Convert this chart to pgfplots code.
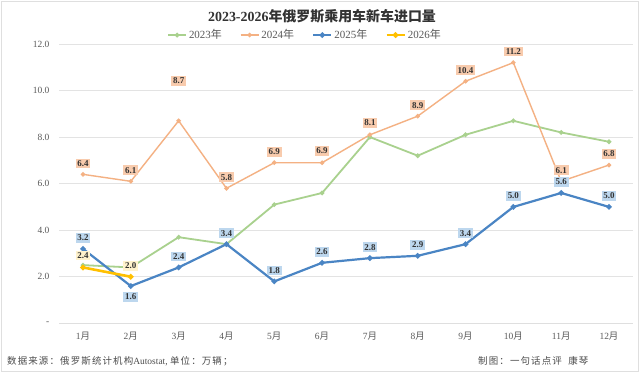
\documentclass[border=0pt]{standalone}
\usepackage{pgfplots}
\pgfplotsset{compat=1.18}
\usepackage{pgfplotstable}
\usepackage{fontspec}
\setmainfont{Liberation Serif}
\newfontfamily\cjk{Noto Sans CJK SC}
\newfontfamily\cjkw{Noto Sans CJK SC}[LetterSpace=12]
\newcommand\yue{{\cjk 月}}
\newcommand\nian{{\cjk 年}}
\definecolor{cA}{HTML}{A9D18E}
\definecolor{cB}{HTML}{F4B183}
\definecolor{cC}{HTML}{4A85C4}
\definecolor{cD}{HTML}{FFC000}
\definecolor{fB}{HTML}{F8CBAD}
\definecolor{fC}{HTML}{BDD7EE}
\definecolor{fD}{HTML}{FFF2CC}
\definecolor{tk}{HTML}{595959}
\definecolor{gridc}{HTML}{E3E3E3}

\pgfplotstableread{
x y
1 2.5
2 2.4
3 3.7
4 3.4
5 5.1
6 5.6
7 8.0
8 7.2
9 8.1
10 8.7
11 8.2
12 7.8
}\tA

\pgfplotstableread{
x y lab dy
1 6.4 6.4 11
2 6.1 6.1 11
3 8.7 8.7 40
4 5.8 5.8 11
5 6.9 6.9 11
6 6.9 6.9 12
7 8.1 8.1 12
8 8.9 8.9 11
9 10.4 10.4 11
10 11.2 11.2 11
11 6.1 6.1 11
12 6.8 6.8 11
}\tB

\pgfplotstableread{
x y lab dy
1 3.2 3.2 11
2 1.6 1.6 -11
3 2.4 2.4 11
4 3.4 3.4 11
5 1.8 1.8 11
6 2.6 2.6 11
7 2.8 2.8 11
8 2.9 2.9 11
9 3.4 3.4 11
10 5.0 5.0 11
11 5.6 5.6 11
12 5.0 5.0 11
}\tC

\pgfplotstableread{
x y lab dy
1 2.4 2.4 12
2 2.0 2.0 11
}\tD

\begin{document}
\begin{tikzpicture}
\path[use as bounding box] (0bp,0bp) rectangle (640bp,-373bp);
\fill[white] (0bp,0bp) rectangle (640bp,-373bp);
\draw[gray!25, line width=1bp] (1.5bp,-1.5bp) rectangle (638.5bp,-371.5bp);

\node[font=\fontsize{14}{16}\selectfont\bfseries, text=black!80] at (322bp,-16bp)
  {2023-2026{\cjk 年俄罗斯乘用车新车进口量}};

\begin{axis}[
  at={(59.1bp,-323.3bp)}, anchor=south west,
  width=573.8bp, height=279.3bp, scale only axis,
  xmin=0.5, xmax=12.5, ymin=0, ymax=12,
  clip=false,
  axis line style={draw=none},
  major tick length=0pt,
  xtick={1,...,12},
  xticklabels={1\yue,2\yue,3\yue,4\yue,5\yue,6\yue,7\yue,8\yue,9\yue,10\yue,11\yue,12\yue},
  ytick={2,4,6,8,10,12},
  yticklabels={2.0,4.0,6.0,8.0,10.0,12.0},
  extra y ticks={0},
  extra y tick labels={-},
  extra y tick style={grid style={color=gray!25, line width=1.4bp}},
  ymajorgrids,
  grid style={color=gridc, line width=0.7bp},
  xticklabel style={font=\fontsize{9.5}{10}\selectfont, text=tk, anchor=center, yshift=-12.7bp},
  yticklabel style={font=\fontsize{9.5}{10}\selectfont, text=tk, anchor=east, inner sep=0pt, xshift=-9.5bp},
  legend style={at={(0.4285,1.032)}, anchor=center, draw=none, fill=none,
    legend columns=4, font=\fontsize{11}{12}\selectfont, text=tk,
    /tikz/every even column/.append style={column sep=16bp},
    nodes={inner sep=2bp}},
  legend image code/.code={\draw[mark repeat=2,mark phase=2,#1] plot coordinates {(0bp,0bp) (9bp,0bp) (18bp,0bp)};},
  lab/.style={nodes near coords, point meta=explicit symbolic,
    visualization depends on={\thisrow{dy} \as \dy},
    every node near coord/.append style={anchor=center, yshift=\dy bp,
      fill=#1, text=black!80, inner sep=1.8bp,
      font=\fontsize{9}{9}\selectfont\bfseries}},
]
\addplot[color=cA, line width=1.8bp, mark=*, mark size=1.3bp] table[x=x,y=y] {\tA};
\addlegendentry{2023\nian}
\addplot[color=cB, line width=1.4bp, mark=*, mark size=1.5bp, lab=fB] table[x=x,y=y,meta=lab] {\tB};
\addlegendentry{2024\nian}
\addplot[color=cC, line width=2.2bp, mark=*, mark size=1.5bp, lab=fC] table[x=x,y=y,meta=lab] {\tC};
\addlegendentry{2025\nian}
\addplot[color=cD, line width=2.6bp, mark=*, mark size=1.3bp, lab=fD] table[x=x,y=y,meta=lab] {\tD};
\addlegendentry{2026\nian}
\end{axis}

\node[anchor=west, font=\fontsize{9.5}{10}\selectfont, text=black!70, inner sep=0pt] at (7bp,-361bp)
  {{\cjkw 数据来源：俄罗斯统计机构}Autostat, {\cjkw 单位：万辆；}};
\node[anchor=west, font=\fontsize{9.5}{10}\selectfont, text=black!70, inner sep=0pt] at (478bp,-361bp)
  {{\cjkw 制图：一句话点评\ \ 康琴}};
\end{tikzpicture}
\end{document}
